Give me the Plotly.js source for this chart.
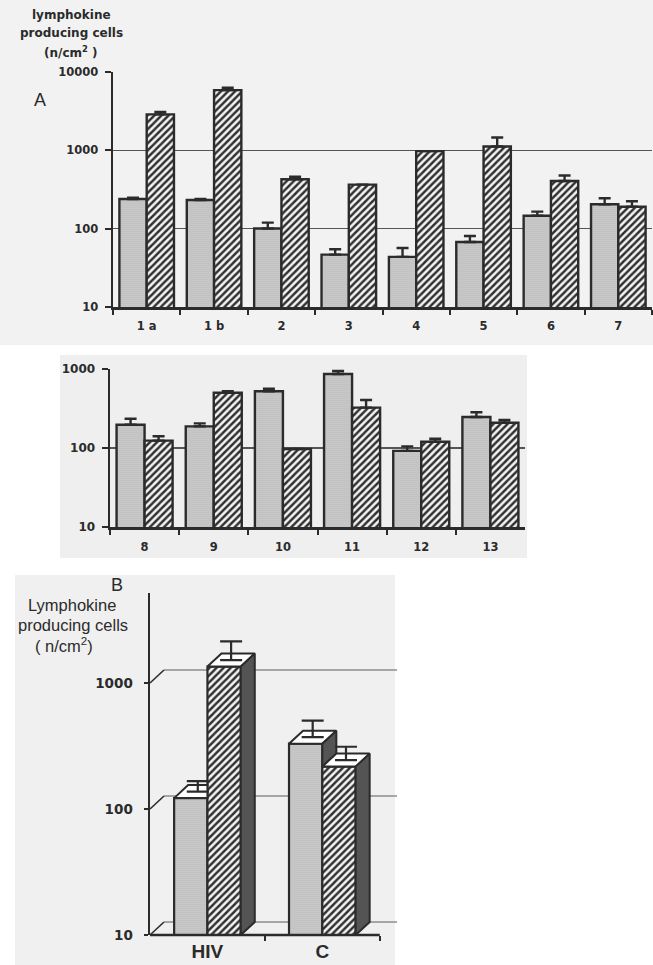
<!DOCTYPE html>
<html><head><meta charset="utf-8">
<script src="https://cdn.plot.ly/plotly-3.0.1.min.js"></script>
<style>html,body{margin:0;padding:0;background:#fff}#chart{width:653px;height:965px}</style>
</head><body><div id="chart"></div>
<script>
// ---------- DATA ----------
// Panel A, first row (patients 1a - 7)
const catsA1 = ['1 a', '1 b', '2', '3', '4', '5', '6', '7'];
const greyA1 = [240, 233, 101, 47, 44, 68, 147, 206];
const greyA1Top = [250, 240, 120, 55, 57, 81, 166, 246];
const hatchA1 = [2880, 5870, 430, 367, 980, 1120, 407, 191];
const hatchA1Top = [3100, 6300, 461, 367, 980, 1460, 479, 225];
// Panel A, second row (patients 8 - 13)
const catsA2 = ['8', '9', '10', '11', '12', '13'];
const greyA2 = [197, 188, 522, 865, 92, 247];
const greyA2Top = [235, 205, 563, 943, 105, 283];
const hatchA2 = [124, 501, 97, 324, 120, 209];
const hatchA2Top = [141, 522, 97, 405, 131, 226];
// Panel B (group means)
const catsB = ['HIV', 'C'];
const greyB = [122, 330];
const greyBTop = [148, 446];
const hatchB = [1350, 217];
const hatchBTop = [1900, 277];
// tick labels
const ticksA1 = [10, 100, 1000, 10000];
const ticksA2 = [10, 100, 1000];
const ticksB = [10, 100, 1000];

// ---------- STYLE ----------
const W = 653, H = 965;
const fx = px => px / W;
const fy = px => 1 - px / H;
const INK = '#2b2b2b';
const TICKFONT = {family: 'DejaVu Sans', size: 11.5, color: INK, weight: 'bold'};
const greyPat = {shape: '.', bgcolor: '#d2d2d2', fgcolor: '#9a9a9a', size: 2, solidity: 0.3};
const hatchPat = {shape: '/', bgcolor: '#f3f3f3', fgcolor: '#2f2f2f', size: 5, solidity: 0.48};
const sidePat = {shape: '.', bgcolor: '#6e6e6e', fgcolor: '#2a2a2a', size: 2, solidity: 0.4};

function errArr(vals, tops) { return tops.map((t, i) => Math.max(0, t - vals[i])); }
function barTrace(x, y, tops, pat, xa, ya, capW) {
  return {
    type: 'bar', x: x, y: y, xaxis: xa, yaxis: ya, hoverinfo: 'skip',
    marker: {color: pat.bgcolor, pattern: pat, line: {color: INK, width: 2.4}},
    error_y: {type: 'data', symmetric: false, array: errArr(y, tops), arrayminus: y.map(() => 0),
      color: INK, thickness: 2.4, width: capW}
  };
}

const traces = [
  barTrace(catsA1, greyA1, greyA1Top, greyPat, 'x', 'y', 6),
  barTrace(catsA1, hatchA1, hatchA1Top, hatchPat, 'x', 'y', 6),
  barTrace(catsA2, greyA2, greyA2Top, greyPat, 'x2', 'y2', 6),
  barTrace(catsA2, hatchA2, hatchA2Top, hatchPat, 'x2', 'y2', 6)
];

// ---------- Panel B (pseudo-3D) ----------
const BX_RANGE = [-0.5, 1.65];
const B_W = 0.29, B_DX = 0.122;
const B_DEC_PX = 126, B_DY_PX = 13, B_H_PX = 342;
const B_F = Math.pow(10, B_DY_PX / B_DEC_PX);
const B_YR = [1, 1 + B_H_PX / B_DEC_PX];
const idxB = catsB.map((_, i) => i);

function bBar(y, pat, off) {
  return {type: 'bar', x: idxB, y: y, width: B_W, offset: off, xaxis: 'x3', yaxis: 'y3', hoverinfo: 'skip',
    marker: {color: pat.bgcolor, pattern: pat, line: {color: INK, width: 2.2}}};
}
traces.push(bBar(greyB, greyPat, -B_W));
traces.push(bBar(hatchB, hatchPat, 0));

function poly(xs, ys, fillcolor, pat) {
  const t = {type: 'scatter', mode: 'lines', x: xs, y: ys, xaxis: 'x3', yaxis: 'y3', fill: 'toself',
    fillcolor: fillcolor, line: {color: INK, width: 2}, hoverinfo: 'skip'};
  if (pat) t.fillpattern = pat;
  return t;
}
const floorB = Math.pow(10, B_YR[0]);
idxB.forEach(i => {
  // grey bar faces
  let x0 = i - B_W, x1 = i, v = greyB[i], nxt = hatchB[i];
  if (nxt > v) {
    traces.push(poly([x0, x1, x1, x0 + B_DX, x0], [v, v, v * B_F, v * B_F, v], '#ffffff'));
  } else {
    traces.push(poly([x0, x1, x1 + B_DX, x0 + B_DX, x0], [v, v, v * B_F, v * B_F, v], '#ffffff'));
    traces.push(poly([x1, x1, x1 + B_DX, x1 + B_DX, x1], [nxt, v, v * B_F, nxt * B_F, nxt], '#666', sidePat));
  }
  // hatched bar faces
  x0 = i; x1 = i + B_W; v = hatchB[i];
  traces.push(poly([x0, x1, x1 + B_DX, x0 + B_DX, x0], [v, v, v * B_F, v * B_F, v], '#ffffff'));
  traces.push(poly([x1, x1, x1 + B_DX, x1 + B_DX, x1], [floorB, v, v * B_F, floorB * B_F, floorB], '#666', sidePat));
});
// error bars from the top-face centres
function bErr(vals, tops, off) {
  const s = Math.sqrt(B_F);
  return {type: 'scatter', mode: 'markers', x: idxB.map(i => i + off + B_W / 2 + B_DX / 2),
    y: vals.map(v => v * s), xaxis: 'x3', yaxis: 'y3', hoverinfo: 'skip',
    marker: {size: 1, color: 'rgba(0,0,0,0)'},
    error_y: {type: 'data', symmetric: false, array: tops.map((t, k) => t * s - vals[k] * s),
      arrayminus: vals.map(() => 0), color: INK, thickness: 2.2, width: 11}};
}
traces.push(bErr(greyB, greyBTop, -B_W));
traces.push(bErr(hatchB, hatchBTop, 0));

// back-wall grid lines for panel B
const fracB = v => (Math.log10(v) - B_YR[0]) / (B_YR[1] - B_YR[0]);
const dyFrac = B_DY_PX / B_H_PX;
const shapes = [
  {type: 'rect', xref: 'paper', yref: 'paper', x0: fx(0), x1: fx(653), y0: fy(345), y1: fy(0), fillcolor: '#f2f2f2', line: {width: 0}, layer: 'below'},
  {type: 'rect', xref: 'paper', yref: 'paper', x0: fx(60), x1: fx(527), y0: fy(558), y1: fy(355), fillcolor: '#efefef', line: {width: 0}, layer: 'below'},
  {type: 'rect', xref: 'paper', yref: 'paper', x0: fx(15), x1: fx(395), y0: fy(965), y1: fy(575), fillcolor: '#f0f0f0', line: {width: 0}, layer: 'below'},
  {type: 'line', xref: 'x3', yref: 'y3 domain', x0: -0.5, x1: 1.5, y0: 0, y1: 0, line: {color: INK, width: 2.5}}
];
ticksB.forEach(t => {
  const f0 = fracB(t), f1 = f0 + dyFrac;
  shapes.push({type: 'line', xref: 'x3', yref: 'y3 domain', x0: BX_RANGE[0], x1: BX_RANGE[0] + B_DX, y0: f0, y1: f1, line: {color: INK, width: 1.6}, layer: 'below'});
  shapes.push({type: 'line', xref: 'x3', yref: 'y3 domain', x0: BX_RANGE[0] + B_DX, x1: BX_RANGE[1], y0: f1, y1: f1, line: {color: '#5a5a5a', width: 1.2}, layer: 'below'});
});

function catAxis(d, anchor, standoff) {
  return {domain: d, anchor: anchor, type: 'category', tickson: 'boundaries', ticks: 'outside', ticklen: 5,
    tickwidth: 2, tickcolor: INK, showline: true, linecolor: INK, linewidth: 2.5, showgrid: false,
    tickfont: Object.assign({}, TICKFONT, {size: 11.5}), ticklabelstandoff: standoff, fixedrange: true};
}
function logAxis(d, anchor, range, tv, size, standoff) {
  return {domain: d, anchor: anchor, type: 'log', range: range, tickmode: 'array', tickvals: tv,
    ticktext: tv.map(String), ticks: 'outside', ticklen: 6, tickwidth: 2, tickcolor: INK,
    showline: true, linecolor: INK, linewidth: 2.5, showgrid: true, gridcolor: '#555555', gridwidth: 1.2,
    tickfont: Object.assign({}, TICKFONT, {size: size}), ticklabelstandoff: standoff, fixedrange: true};
}

function ann(text, xpx, ypx, font) {
  return {text: text, xref: 'paper', yref: 'paper', x: fx(xpx), y: fy(ypx), xanchor: 'center', yanchor: 'middle',
    showarrow: false, font: font};
}
const boldT = {family: 'DejaVu Sans', size: 12, color: INK, weight: 'bold'};
const regT = {family: 'Liberation Sans', size: 16.5, color: INK};
const annotations = [
  ann('lymphokine', 71, 15, boldT),
  ann('producing cells', 71, 33, boldT),
  ann('(n/cm<sup>2</sup> )', 71, 52, boldT),
  ann('A', 40, 100, {family: 'Liberation Sans', size: 18, color: INK}),
  ann('B', 117, 585, {family: 'Liberation Sans', size: 18, color: INK}),
  ann('Lymphokine', 72, 605, regT),
  ann('producing cells', 73, 625, regT),
  ann('( n/cm<sup>2</sup>)', 64, 645, regT)
];

const layout = {
  width: W, height: H, margin: {l: 0, r: 0, t: 0, b: 0},
  paper_bgcolor: '#ffffff', plot_bgcolor: 'rgba(0,0,0,0)',
  showlegend: false, barmode: 'group', bargap: 0.19, bargroupgap: 0,
  xaxis: catAxis([fx(113), fx(652)], 'y', 6),
  yaxis: logAxis([fy(307.3), fy(72)], 'x', [1, 4], ticksA1, 11.5, 4),
  xaxis2: catAxis([fx(110), fx(525)], 'y2', 8),
  yaxis2: logAxis([fy(527), fy(369)], 'x2', [1, 3], ticksA2, 12, 4),
  xaxis3: {domain: [fx(150), fx(397)], anchor: 'y3', range: BX_RANGE, showline: false, showgrid: false,
    zeroline: false, tickmode: 'array', tickvals: idxB, ticktext: catsB, ticks: '',
    tickfont: {family: 'Liberation Sans', size: 19, color: INK, weight: 'bold'}, ticklabelstandoff: 3,
    minor: {tickmode: 'array', tickvals: [0.5, 1.5], ticks: 'outside', ticklen: 5, tickwidth: 2, tickcolor: INK, showgrid: false},
    fixedrange: true},
  yaxis3: {domain: [fy(935), fy(593)], anchor: 'x3', type: 'log', range: B_YR, tickmode: 'array',
    tickvals: ticksB, ticktext: ticksB.map(String), ticks: 'outside', ticklen: 4, tickwidth: 2, tickcolor: INK,
    showline: true, linecolor: INK, linewidth: 2.5, showgrid: false,
    tickfont: {family: 'DejaVu Sans', size: 13.5, color: INK, weight: 'bold'}, ticklabelstandoff: 8, fixedrange: true},
  shapes: shapes,
  annotations: annotations
};

Plotly.newPlot('chart', traces, layout, {staticPlot: true, displayModeBar: false});
</script>
</body></html>
